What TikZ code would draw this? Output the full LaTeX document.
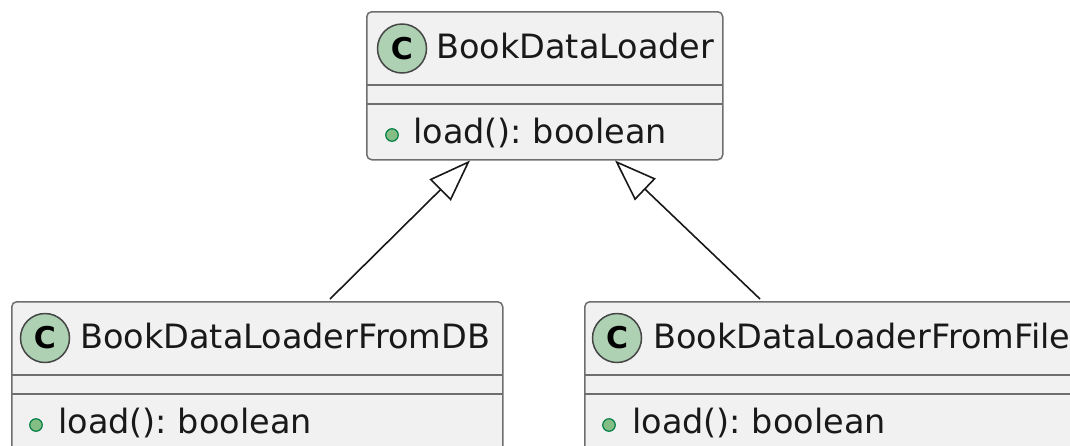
\documentclass[tikz,border=0pt]{standalone}
\usepackage{fontspec}
\setmainfont{DejaVu Sans}
\usetikzlibrary{arrows.meta,calc}
\definecolor{boxfill}{HTML}{F1F1F1}
\definecolor{boxline}{HTML}{6E6E6E}
\definecolor{circfill}{HTML}{ADD1B2}
\definecolor{dotfill}{HTML}{84BE84}
\definecolor{dotline}{HTML}{038048}
\definecolor{arrline}{HTML}{181818}
\tikzset{
  classbox/.style={draw=boxline, fill=boxfill, line width=1.5pt, rounded corners=5pt, anchor=north west, inner sep=0pt},
  divider/.style={draw=boxline, line width=1.5pt},
  circ/.style={circle, draw=arrline!80, fill=circfill, line width=1.5pt, minimum size=49pt, inner sep=0pt, font=\bfseries\fontsize{30}{30}\selectfont},
  mdot/.style={circle, draw=dotline, fill=dotfill, line width=1.2pt, minimum size=12.5pt, inner sep=0pt},
  label/.style={anchor=base west, inner sep=0pt, font=\frenchspacing\fontsize{33.5}{40}\selectfont, text=black!90},
  inherit/.style={draw=arrline, line width=1.6pt, -{Triangle[open, length=42pt, width=30pt, fill=white]}},
}
\begin{document}
\begin{tikzpicture}[x=1pt,y=-1pt]
\useasboundingbox (0,0) rectangle (1070,445);
\clip (0,0) rectangle (1070,445);
% top class
\node[classbox, minimum width=356pt, minimum height=148pt] (top) at (366,11) {};
\draw[divider] (366,85) -- (722,85);
\draw[divider] (366,104) -- (722,104);
\node[circ] (topc) at (402,48.5) {C};
\node[label] (topn) at (436,58) {BookDataLoader};
\node[mdot] (topd) at (392,135) {};
\node[label] (topm) at (413,143) {load(): boolean};
% bottom left class
\node[classbox, minimum width=491pt, minimum height=200pt] (db) at (11,301) {};
\draw[divider] (11,375) -- (502,375);
\draw[divider] (11,394) -- (502,394);
\node[circ] (dbc) at (45,338) {C};
\node[label] (dbn) at (80,348) {BookDataLoaderFromDB};
\node[mdot] (dbd) at (36,425) {};
\node[label] (dbm) at (58,433) {load(): boolean};
% bottom right class
\node[classbox, minimum width=560pt, minimum height=200pt] (file) at (584,301) {};
\draw[divider] (584,375) -- (1144,375);
\draw[divider] (584,394) -- (1144,394);
\node[circ] (filec) at (617,338) {C};
\node[label] (filen) at (653,348) {BookDataLoaderFromFile};
\node[mdot] (filed) at (609,425) {};
\node[label] (filem) at (632,433) {load(): boolean};
% connectors
\coordinate (a1) at ($(db.north west)+(319,-2)$);
\coordinate (t1) at ($(top.south west)+(104,0)$);
\coordinate (a2) at ($(file.north west)+(176,-2)$);
\coordinate (t2) at ($(top.south west)+(249,0)$);
\draw[inherit] (a1) -- (t1);
\draw[inherit] (a2) -- (t2);
\end{tikzpicture}
\end{document}
